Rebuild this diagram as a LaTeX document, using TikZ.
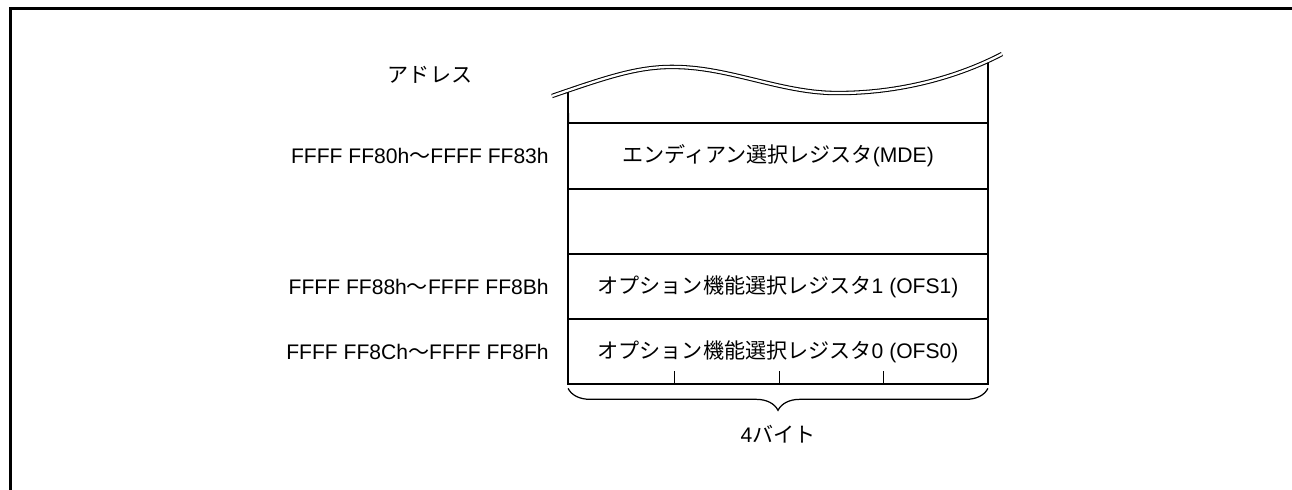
\documentclass[tikz,border=0pt]{standalone}
\usepackage{fontspec}
\setmainfont{Liberation Sans}
\newfontfamily\jp{Noto Sans CJK JP}
\usetikzlibrary{positioning,decorations.pathreplacing}
\tikzset{
  lbl/.style={font=\fontsize{12}{14}\selectfont, inner sep=0pt},
  regbox/.style={lbl, draw, line width=1.1pt, outer sep=0pt, minimum width=8.4cm, minimum height=1.305cm},
  addr/.style={lbl, left=0.38cm of #1}
}
\begin{document}
\begin{tikzpicture}[x=0.02cm, y=-0.02cm]
\useasboundingbox (0,0) rectangle (1292,490);
% Frame
\draw[line width=1.7pt] (1292,8.5) -- (10.5,8.5) -- (10.5,490);
% Registers
\node[regbox] (mde) at (778,156) {{\jp エンディアン選択レジスタ}(MDE)};
\node[regbox, below=0pt of mde] (blank) {};
\node[regbox, below=0pt of blank] (ofs1) {{\jp オプション機能選択レジスタ}1 (OFS1)};
\node[regbox, below=0pt of ofs1] (ofs0) {{\jp オプション機能選択レジスタ}0 (OFS0)};
% Cut-off top
\coordinate (topl) at (568,92);
\coordinate (topr) at (988,62);
\draw[line width=1.1pt] (mde.north west) -- (topl);
\draw[line width=1.1pt] (mde.north east) -- (topr);
\draw[line width=0.6pt, double, double distance=1.3pt]
  (552,96) .. controls (610,76) and (640,66) .. (677,67)
  .. controls (730,68) and (780,92) .. (833,93)
  .. controls (900,94) and (960,76) .. (1002,54);
% Byte ticks
\foreach \x in {674,779,883}
  \draw[line width=0.5pt] (\x,384) -- (\x,371);
% Addresses
\node[lbl] (adr) at (430,75) {\jp アドレス};
\node[addr=mde] (a1) {FFFF FF80h{\jp ～}FFFF FF83h};
\node[addr=ofs1] (a2) {FFFF FF88h{\jp ～}FFFF FF8Bh};
\node[addr=ofs0] (a3) {FFFF FF8Ch{\jp ～}FFFF FF8Fh};
% Brace
\draw[line width=0.7pt, decorate, decoration={brace, mirror, amplitude=0.44cm}]
  ([yshift=-0.08cm]ofs0.south west) -- ([yshift=-0.08cm]ofs0.south east);
\node[lbl] (width) at (778,434) {4{\jp バイト}};
\end{tikzpicture}
\end{document}
